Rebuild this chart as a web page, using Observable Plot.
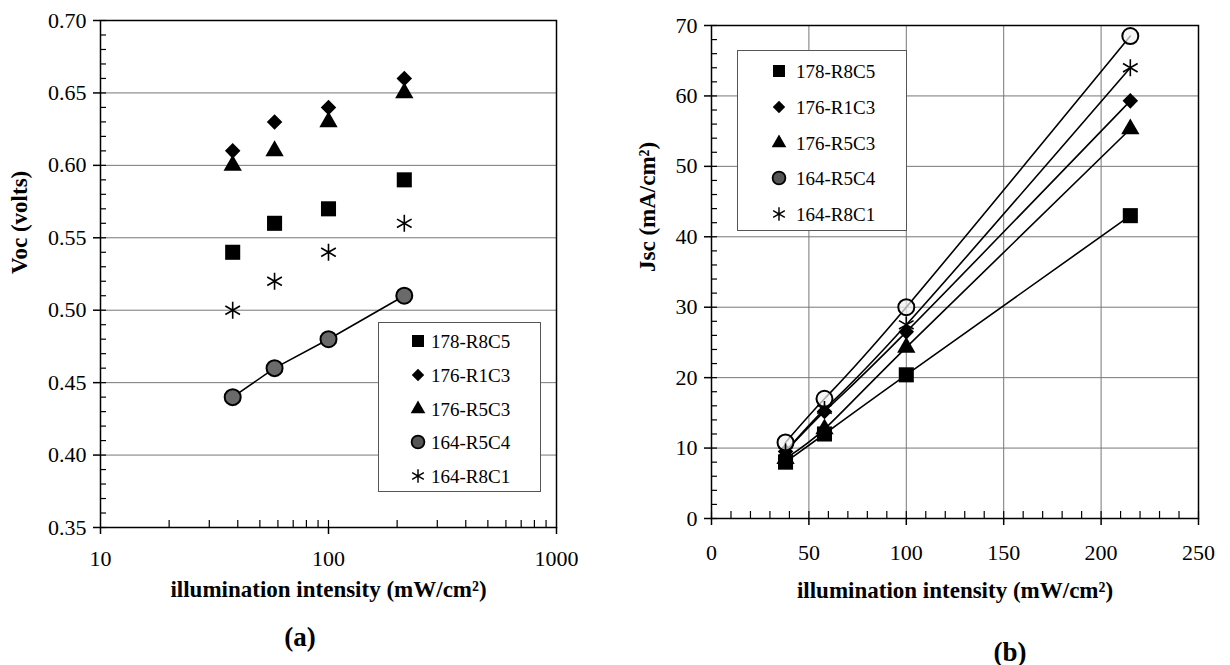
<!DOCTYPE html>
<html>
<head>
<meta charset="utf-8">
<script src="https://cdn.jsdelivr.net/npm/d3@7"></script>
<script src="https://cdn.jsdelivr.net/npm/@observablehq/plot@0.6"></script>
<style>
  html, body { margin: 0; padding: 0; background: #fff; }
  #root { position: relative; width: 1230px; height: 665px; overflow: hidden; background: #fff;
          font-family: "Liberation Serif", "Times New Roman", serif; color: #000; }
  .chart { position: absolute; top: 0; }
  .legend { position: absolute; background: #fff; border: 1px solid #555; box-sizing: border-box; }
  .legend svg { position: absolute; overflow: visible; }
  .legend span { position: absolute; font-size: 19px; line-height: 1; transform: translateY(-50%); white-space: nowrap; }
  .panel { position: absolute; font-weight: bold; font-size: 27px; transform: translate(-50%, -50%); }
</style>
</head>
<body>
<div id="root"></div>
<script>
// ---------------- data ----------------
const intensity = [38, 58, 100, 215];                 // mW/cm^2
const seriesNames = ["178-R8C5", "176-R1C3", "176-R5C3", "164-R5C4", "164-R8C1"];

// (a) open-circuit voltage Voc (volts)
const voc178R8C5 = [0.54, 0.56, 0.57, 0.59];
const voc176R1C3 = [0.61, 0.63, 0.64, 0.66];
const voc176R5C3 = [0.60, 0.61, 0.63, 0.65];
const voc164R5C4 = [0.44, 0.46, 0.48, 0.51];
const voc164R8C1 = [0.50, 0.52, 0.54, 0.56];

// (b) short-circuit current density Jsc (mA/cm^2)
const jsc178R8C5 = [8.0, 12.0, 20.4, 43.0];
const jsc176R1C3 = [9.5, 15.2, 26.5, 59.3];
const jsc176R5C3 = [8.5, 12.7, 24.3, 55.3];
const jsc164R5C4 = [10.8, 17.0, 30.0, 68.5];
const jsc164R8C1 = [9.5, 15.5, 27.5, 64.0];

// tick values
const vocTicks = [0.35, 0.40, 0.45, 0.50, 0.55, 0.60, 0.65, 0.70];
const intensityLogTicks = [10, 100, 1000];
const intensityLogMinor = [20, 30, 40, 50, 60, 70, 80, 90, 100, 200, 300, 400, 500, 600, 700, 800, 900];
const jscTicks = [0, 10, 20, 30, 40, 50, 60, 70];
const intensityLinTicks = [0, 50, 100, 150, 200, 250];

// ---------------- styles ----------------
const symbolStyles = [
  {symbol: "square",   r: 8.5, fill: "black"},
  {symbol: "diamond2", r: 7,   fill: "black"},
  {symbol: "triangle", r: 6.8, fill: "black"},
  {symbol: "circle",   r: 8,   fill: "#6a6a6a", stroke: "black", strokeWidth: 2},
  {symbol: "asterisk", r: 8,   fill: "none", stroke: "black", strokeWidth: 1.6}
];
const d3Symbols = {square: d3.symbolSquare, diamond2: d3.symbolDiamond2, triangle: d3.symbolTriangle,
                   circle: d3.symbolCircle, asterisk: d3.symbolAsterisk};

const vocSeries = [voc178R8C5, voc176R1C3, voc176R5C3, voc164R5C4, voc164R8C1];
const jscSeries = [jsc178R8C5, jsc176R1C3, jsc176R5C3, jsc164R5C4, jsc164R8C1];
const rowsFor = (values, name) => intensity.map((x, i) => ({x, y: values[i], series: name}));
const rowsA = seriesNames.map((n, i) => rowsFor(vocSeries[i], n));
const rowsB = seriesNames.map((n, i) => rowsFor(jscSeries[i], n));

const root = document.getElementById("root");
const font = "'Liberation Serif', 'Times New Roman', serif";

// ---------------- chart (a) ----------------
const chartA = Plot.plot({
  width: 600, height: 600,
  marginLeft: 100, marginRight: 44, marginTop: 20, marginBottom: 73,
  x: {type: "log", domain: [10, 1000]},
  y: {domain: [0.35, 0.70]},
  style: {fontFamily: font, fontSize: "22px", color: "black", background: "transparent", overflow: "visible"},
  marks: [
    Plot.gridY({ticks: vocTicks.slice(1, -1), stroke: "#777", strokeOpacity: 1, strokeWidth: 1}),
    Plot.line(rowsA[3], {x: "x", y: "y", stroke: "black", strokeWidth: 1.6}),
    ...rowsA.map((rows, i) => Plot.dot(rows, {x: "x", y: "y", ...symbolStyles[i]})),
    Plot.frame({stroke: "black", strokeWidth: 1.5}),
    Plot.axisY({ticks: vocTicks, tickSize: 7, tickPadding: 7, tickFormat: d3.format(".2f"), label: null, strokeWidth: 1.5}),
    Plot.axisY({ticks: d3.range(0.35, 0.7001, 0.01), tickSize: -6, tickFormat: () => "", label: null, strokeWidth: 1.2}),
    Plot.axisX({ticks: intensityLogTicks, tickSize: 7, tickPadding: 16, tickFormat: d3.format("d"), label: null, strokeWidth: 1.5}),
    Plot.axisX({ticks: intensityLogMinor, tickSize: -7, tickFormat: () => "", label: null, strokeWidth: 1.2}),
    Plot.text(["Voc (volts)"], {frameAnchor: "left", rotate: -90, dx: -81, fontWeight: "bold", fontSize: 23}),
    Plot.text(["illumination intensity (mW/cm²)"], {frameAnchor: "bottom", dy: 69, fontWeight: "bold", fontSize: 23})
  ]
});
chartA.classList.add("chart");
chartA.style.left = "0px";
root.appendChild(chartA);

// ---------------- chart (b) ----------------
const chartB = Plot.plot({
  width: 615, height: 620,
  marginLeft: 96, marginRight: 32, marginTop: 25, marginBottom: 102,
  x: {domain: [0, 250]},
  y: {domain: [0, 70]},
  style: {fontFamily: font, fontSize: "22px", color: "black", background: "transparent", overflow: "visible"},
  marks: [
    Plot.gridY({ticks: jscTicks.slice(1, -1), stroke: "#777", strokeOpacity: 1, strokeWidth: 1}),
    Plot.gridX({ticks: intensityLinTicks.slice(1, -1), stroke: "#777", strokeOpacity: 1, strokeWidth: 1}),
    ...rowsB.map(rows => Plot.line(rows, {x: "x", y: "y", curve: "natural", stroke: "black", strokeWidth: 1.6})),
    ...rowsB.map((rows, i) => Plot.dot(rows, {x: "x", y: "y", ...symbolStyles[i],
        ...(i === 3 ? {fill: "#f2f2f2", fillOpacity: 0.7} : {})})),
    Plot.frame({stroke: "black", strokeWidth: 1.5}),
    Plot.axisY({ticks: jscTicks, tickSize: 7, tickPadding: 7, label: null, strokeWidth: 1.5}),
    Plot.axisY({ticks: d3.range(0, 70.1, 2), tickSize: -6, tickFormat: () => "", label: null, strokeWidth: 1.2}),
    Plot.axisX({ticks: intensityLinTicks, tickSize: 7, tickPadding: 19, label: null, strokeWidth: 1.5}),
    Plot.axisX({ticks: d3.range(0, 250.1, 10), tickSize: -7, tickFormat: () => "", label: null, strokeWidth: 1.2}),
    Plot.text(["Jsc (mA/cm²)"], {frameAnchor: "left", rotate: -90, dx: -64, fontWeight: "bold", fontSize: 23}),
    Plot.text(["illumination intensity (mW/cm²)"], {frameAnchor: "bottom", dy: 79, fontWeight: "bold", fontSize: 23})
  ]
});
chartB.classList.add("chart");
chartB.style.left = "615px";
root.appendChild(chartB);

// ---------------- legends ----------------
function addLegend({left, top, width, height, markerX, textX, firstY, stepY, scale}) {
  const box = document.createElement("div");
  box.className = "legend";
  Object.assign(box.style, {left: left + "px", top: top + "px", width: width + "px", height: height + "px"});
  seriesNames.forEach((name, i) => {
    const s = symbolStyles[i];
    const cy = firstY + i * stepY;
    const r = s.r * scale;
    const svg = d3.create("svg").attr("width", 1).attr("height", 1)
      .style("left", markerX + "px").style("top", cy + "px");
    svg.append("path")
      .attr("d", d3.symbol(d3Symbols[s.symbol], Math.PI * r * r)())
      .attr("fill", s.symbol === "circle" ? "#555" : s.fill)
      .attr("stroke", s.stroke || "none")
      .attr("stroke-width", s.stroke ? (s.strokeWidth * 0.9) : 0);
    box.appendChild(svg.node());
    const label = document.createElement("span");
    label.textContent = name;
    Object.assign(label.style, {left: textX + "px", top: cy + "px"});
    box.appendChild(label);
  });
  root.appendChild(box);
}
addLegend({left: 378, top: 322, width: 163, height: 170, markerX: 39, textX: 52, firstY: 18, stepY: 33.8, scale: 0.8});
addLegend({left: 737, top: 50, width: 170, height: 181, markerX: 41, textX: 58, firstY: 20, stepY: 35.8, scale: 0.8});

// ---------------- panel labels ----------------
[["(a)", 300, 637], ["(b)", 1010, 652]].forEach(([t, x, y]) => {
  const el = document.createElement("div");
  el.className = "panel";
  el.textContent = t;
  Object.assign(el.style, {left: x + "px", top: y + "px"});
  root.appendChild(el);
});
</script>
</body>
</html>
